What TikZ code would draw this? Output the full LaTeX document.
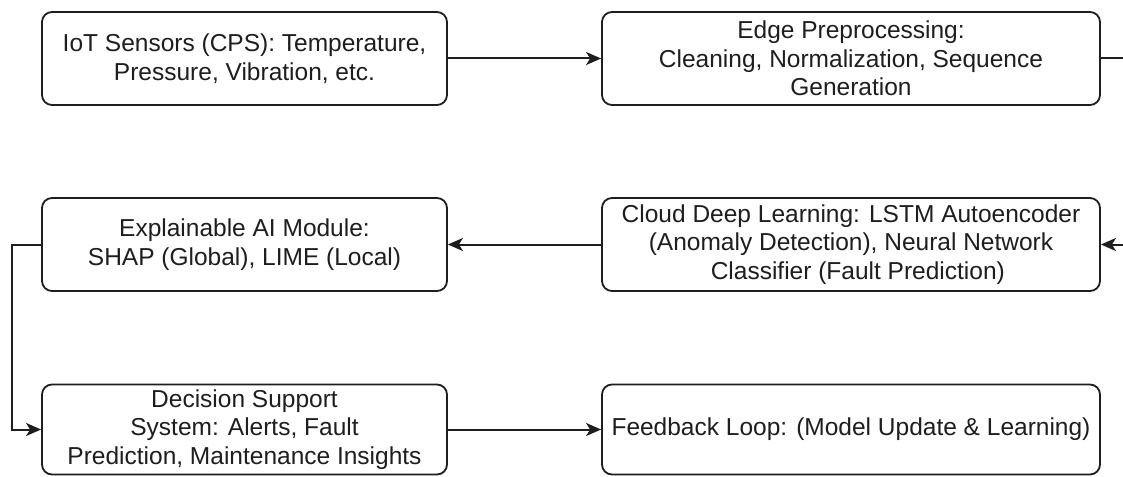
\documentclass[tikz,border=0pt]{standalone}
\usepackage{fontspec}
\setmainfont{Liberation Sans}
\usetikzlibrary{arrows.meta}
\definecolor{ink}{HTML}{1E1E1E}
\begin{document}
\begin{tikzpicture}[x=1pt,y=-1pt,
  box/.style={draw=ink, line width=1.8pt, rounded corners=10pt, minimum width=#1,
    minimum height=93pt, inner sep=0pt, align=center, text=ink,
    font=\fontsize{24.5}{28.5}\selectfont},
  conn/.style={draw=ink, line width=2pt},
  arr/.style={conn, -{Stealth[length=15pt,width=13pt,inset=4pt]}}]
\useasboundingbox (0,0) rectangle (1123,476);
\clip (0,0) rectangle (1123,476);
\fill[white] (0,0) rectangle (1123,476);

\node[box=405pt] (b1) at (244.5,58.5) {IoT Sensors (CPS): Temperature,\\Pressure, Vibration, etc.};
\node[box=498pt] (b2) at (851,58.5) {Edge Preprocessing:\\Cleaning, Normalization, Sequence\\Generation};
\node[box=405pt] (b3) at (244.5,244.5) {Explainable AI Module:\\SHAP (Global), LIME (Local)};
\node[box=498pt] (b4) at (851,244.5) {Cloud Deep Learning: LSTM Autoencoder\\(Anomaly Detection), Neural Network\\\ \ Classifier (Fault Prediction)};
\node[box=405pt, minimum height=90pt] (b5) at (244.5,429.5) {Decision Support\\System: Alerts, Fault\\Prediction, Maintenance Insights};
\node[box=498pt, minimum height=90pt] (b6) at (851,429.5) {Feedback Loop: (Model Update \& Learning)};

\coordinate (r1) at (1130,58.5);
\coordinate (r2) at (1130,244.5);
\coordinate (l1) at (12,244.5);

\draw[arr] (b1.east) -- (b2.west);
\draw[arr] (b2.east) -- (r1) -- (r2) -- (b4.east);
\draw[arr] (b4.west) -- (b3.east);
\draw[arr] (b3.west) -- (l1) |- (b5.west);
\draw[arr] (b5.east) -- (b6.west);
\end{tikzpicture}
\end{document}
